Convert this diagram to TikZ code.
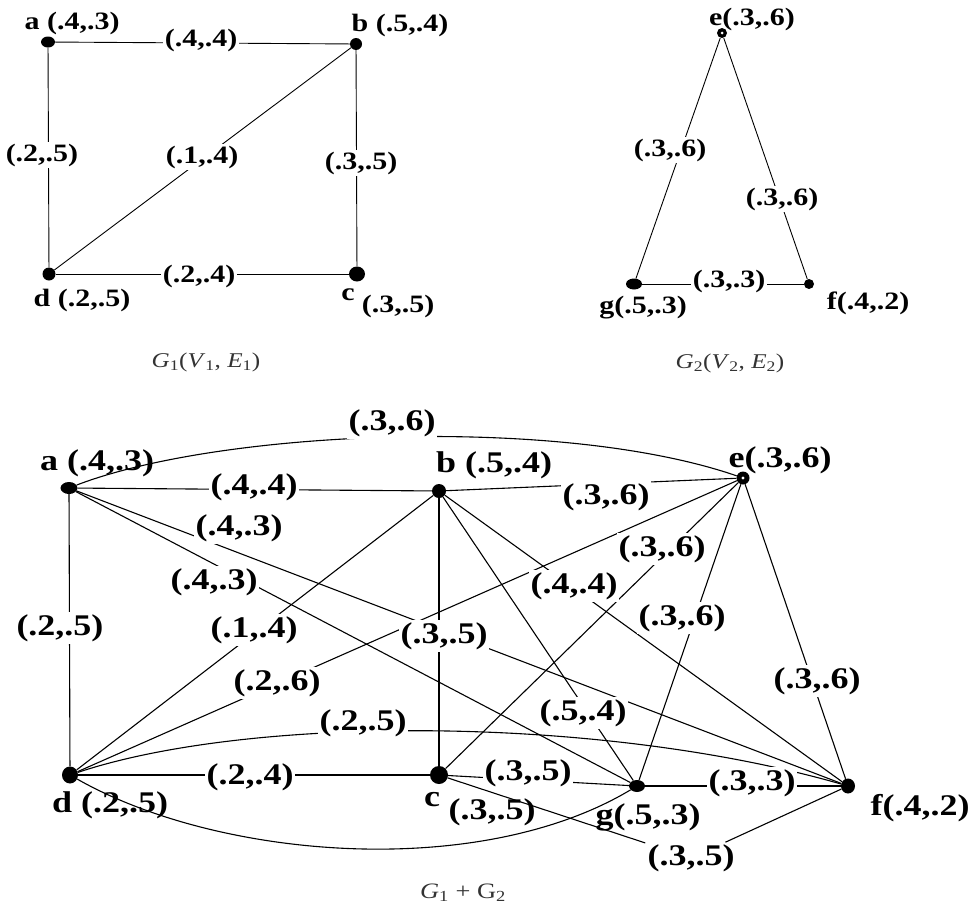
\documentclass[tikz,border=0pt]{standalone}
\usepackage{fontspec}
\setmainfont[FakeStretch=1.2]{Liberation Serif}
\usetikzlibrary{shapes.geometric}
\definecolor{capgray}{HTML}{333333}
\tikzset{
  dot/.style={ellipse, fill=black, inner sep=0pt},
  vlab/.style={font=\fontsize{25}{25}\selectfont\bfseries, inner sep=0pt},
  elab/.style={vlab, fill=white, inner sep=2pt},
  bvlab/.style={font=\fontsize{30}{30}\selectfont\bfseries, inner sep=0pt},
  belab/.style={bvlab, fill=white, inner sep=2pt},
  captxt/.style={font=\fontsize{21}{21}\selectfont, text=capgray, inner sep=0pt},
  edge/.style={line width=0.9pt},
  bedge/.style={line width=1.1pt}
}
\begin{document}
\begin{tikzpicture}[x=1pt,y=-1pt]
\useasboundingbox (0,0) rectangle (977,910);

% ---------------- G1 ----------------
\node[dot,minimum width=14pt,minimum height=11pt] (a1) at (48,42) {};
\node[dot,minimum width=12pt,minimum height=12pt] (b1) at (356,44) {};
\node[dot,minimum width=16pt,minimum height=15pt] (c1) at (357,274) {};
\node[dot,minimum width=13pt,minimum height=13pt] (d1) at (49,274) {};
\draw[edge] (a1) -- (b1);
\draw[edge] (a1) -- (d1);
\draw[edge] (b1) -- (c1);
\draw[edge] (d1) -- (c1);
\draw[edge] (d1) -- (b1);
\node[vlab] (ta1) at (72,23) {a (.4,.3)};
\node[vlab] (tb1) at (400,25) {b (.5,.4)};
\node[vlab] (td1) at (82,300) {d (.2,.5)};
\node[vlab] (tc1) at (348,295) {c};
\node[vlab] (tc1b) at (398,306) {(.3,.5)};
\node[elab] (lab1) at (201,40) {(.4,.4)};
\node[elab] (lad1) at (42,155) {(.2,.5)};
\node[elab] (lbd1) at (202,157) {(.1,.4)};
\node[elab] (lbc1) at (361,163) {(.3,.5)};
\node[elab] (ldc1) at (199,276) {(.2,.4)};
\node[captxt] (cap1) at (206,362) {\textit{G}\textsubscript{1}(\textit{V}\textsubscript{1}, \textit{E}\textsubscript{1})};

% ---------------- G2 ----------------
\node[dot,minimum width=10pt,minimum height=10pt] (e2) at (722,33) {};
\fill[white] (e2.center) circle (1.5pt);
\node[dot,minimum width=16pt,minimum height=11pt] (g2) at (634,284) {};
\node[dot,minimum width=10pt,minimum height=10pt] (f2) at (809,284) {};
\draw[edge] (e2) -- (g2);
\draw[edge] (e2) -- (f2);
\draw[edge] (g2) -- (f2);
\node[vlab] (te2) at (752,19) {e(.3,.6)};
\node[vlab] (tg2) at (643,308) {g(.5,.3)};
\node[vlab] (tf2) at (868,303) {f(.4,.2)};
\node[elab] (leg2) at (670,150) {(.3,.6)};
\node[elab] (lef2) at (782,199) {(.3,.6)};
\node[elab] (lgf2) at (729,281) {(.3,.3)};
\node[captxt] (cap2) at (730,363) {\textit{G}\textsubscript{2}(\textit{V}\textsubscript{2}, \textit{E}\textsubscript{2})};

% ---------------- G1 + G2 ----------------
\node[dot,minimum width=17pt,minimum height=12pt] (a) at (69,488) {};
\node[dot,minimum width=14pt,minimum height=14pt] (b) at (439,491) {};
\node[dot,minimum width=13pt,minimum height=13pt] (e) at (743,478) {};
\fill[white] (e.center) circle (1.7pt);
\node[dot,minimum width=16pt,minimum height=17pt] (d) at (70,775) {};
\node[dot,minimum width=18pt,minimum height=18pt] (c) at (439,775) {};
\node[dot,minimum width=16pt,minimum height=12pt] (g) at (637,786) {};
\node[dot,minimum width=14pt,minimum height=15pt] (f) at (848,786) {};

\node[belab] (lcf) at (691,858) {(.3,.5)};

\draw[bedge] (a) .. controls (220,430) and (560,415) .. (e);
\draw[bedge] (a) -- (b);
\draw[bedge] (a) -- (d);
\draw[bedge] (a) -- (f);
\draw[bedge] (a) -- (g);
\draw[bedge] (b) -- (e);
\draw[bedge] (b) -- (c);
\draw[bedge] (b) -- (d);
\draw[bedge] (b) -- (f);
\draw[bedge] (b) -- (g);
\draw[bedge] (c) -- (e);
\draw[bedge] (d) -- (e);
\draw[bedge] (e) -- (g);
\draw[bedge] (e) -- (f);
\draw[bedge] (d) -- (c);
\draw[bedge] (d) .. controls (250,715) and (600,715) .. (f);
\draw[bedge] (d) .. controls (220,860) and (480,880) .. (g);
\draw[bedge] (c) -- (g);
\draw[bedge] (g) -- (f);
\draw[bedge] (c) -- (lcf) -- (f);

\node[bvlab] (ta) at (97,463) {a (.4,.3)};
\node[bvlab] (tb) at (494,465) {b (.5,.4)};
\node[bvlab] (te) at (780,460) {e(.3,.6)};
\node[bvlab] (td) at (110,805) {d (.2,.5)};
\node[bvlab] (tc) at (432,800) {c};
\node[bvlab] (tcb) at (492,812) {(.3,.5)};
\node[bvlab] (tg) at (648,817) {g(.5,.3)};
\node[bvlab] (tf) at (920,808) {f(.4,.2)};

\node[belab] (lae) at (392,423) {(.3,.6)};
\node[belab] (lab) at (254,487) {(.4,.4)};
\node[belab] (lbe) at (606,497) {(.3,.6)};
\node[belab] (laf) at (239,528) {(.4,.3)};
\node[belab] (lag) at (214,582) {(.4,.3)};
\node[belab] (lce) at (662,549) {(.3,.6)};
\node[belab] (lbf) at (574,586) {(.4,.4)};
\node[belab] (leg) at (682,618) {(.3,.6)};
\node[belab] (lad) at (60,628) {(.2,.5)};
\node[belab] (lbd) at (254,630) {(.1,.4)};
\node[belab] (lbc) at (444,636) {(.3,.5)};
\node[belab] (lde) at (277,683) {(.2,.6)};
\node[belab] (lef) at (817,681) {(.3,.6)};
\node[belab] (lbg) at (583,713) {(.5,.4)};
\node[belab] (ldf) at (363,723) {(.2,.5)};
\node[belab] (ldc) at (250,777) {(.2,.4)};
\node[belab] (lcg) at (528,773) {(.3,.5)};
\node[belab] (lgf) at (752,783) {(.3,.3)};

\node[captxt, font=\fontsize{22}{22}\selectfont] (cap3) at (463,893) {\textit{G}\textsubscript{1} + G\textsubscript{2}};
\end{tikzpicture}
\end{document}
